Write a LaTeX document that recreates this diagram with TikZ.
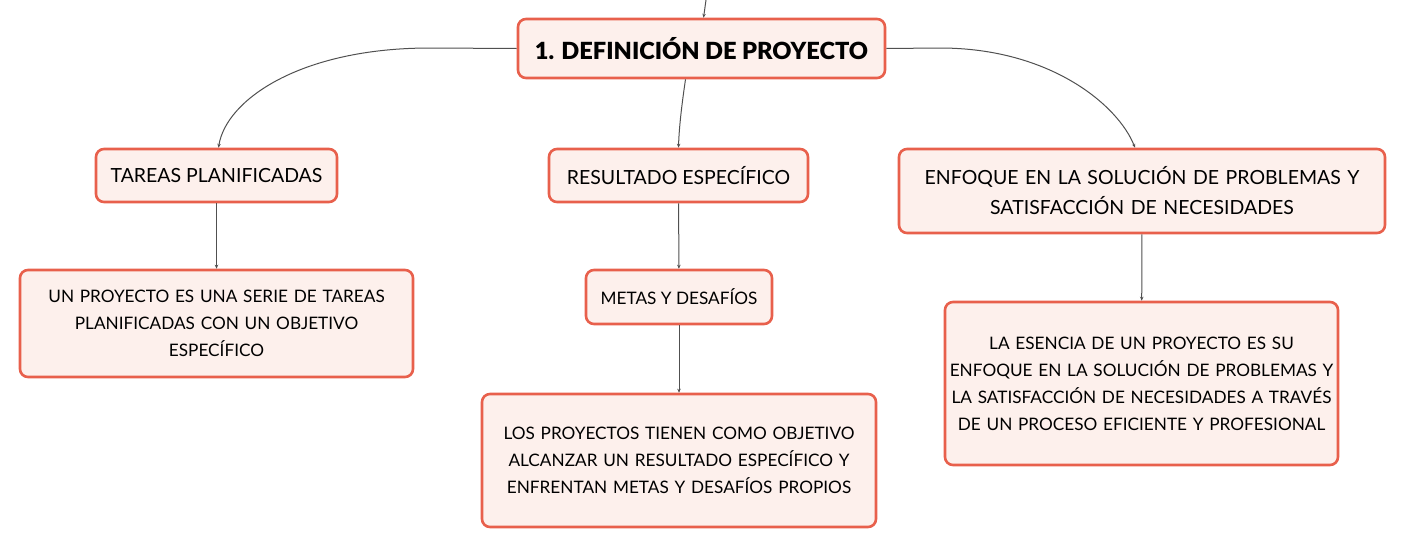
\documentclass[tikz,border=0pt]{standalone}
\usepackage{fontspec}
\setmainfont{Lato}
\newfontfamily\heavyfont{Lato Black}
\usepackage{tikz}
\usetikzlibrary{arrows.meta,positioning}
\definecolor{boxline}{HTML}{E8604C}
\definecolor{boxfill}{HTML}{FDF0EC}
\definecolor{linkgray}{HTML}{505050}
\tikzset{
  idea/.style={draw=boxline, fill=boxfill, line width=2.6pt, rounded corners=8pt,
    align=center, inner sep=0pt, font=\fontsize{17.2}{27}\selectfont},
  branch/.style={idea, font=\fontsize{19.5}{30}\selectfont},
  link/.style={draw=linkgray, line width=1pt, -{Stealth[length=4pt,width=3.5pt]}}
}
\begin{document}
\begin{tikzpicture}[x=1pt, y=-1pt]
      \useasboundingbox (0,0) rectangle (1405,549);
      \node [idea, minimum width=367pt, minimum height=59pt,
             font=\fontsize{23.6}{28}\heavyfont] (def) at (701.5,48.5) {1. DEFINICIÓN DE PROYECTO};
      \node [branch, minimum width=241pt, minimum height=53pt] (tareas) at (216.5,175.5) {TAREAS PLANIFICADAS};
      \node [branch, minimum width=259pt, minimum height=53pt] (result) at (678.5,175.5) {RESULTADO ESPECÍFICO};
      \node [branch, minimum width=486pt, minimum height=84pt, text width=470pt] (enfoque) at (1142,191) {ENFOQUE EN LA SOLUCIÓN DE PROBLEMAS Y\\SATISFACCIÓN DE NECESIDADES};
      \node [idea, minimum width=393pt, minimum height=107pt, text width=385pt] (serie) at (216.5,323.5) {UN PROYECTO ES UNA SERIE DE TAREAS\\PLANIFICADAS CON UN OBJETIVO\\ESPECÍFICO};
      \node [idea, minimum width=186pt, minimum height=54pt] (metas) at (679,297) {METAS Y DESAFÍOS};
      \node [idea, minimum width=394pt, minimum height=133pt, text width=385pt] (objetivo) at (679,460.5) {LOS PROYECTOS TIENEN COMO OBJETIVO\\ALCANZAR UN RESULTADO ESPECÍFICO Y\\ENFRENTAN METAS Y DESAFÍOS PROPIOS};
      \node [idea, minimum width=393pt, minimum height=163pt, text width=388pt] (esencia) at (1141.5,383.5) {LA ESENCIA DE UN PROYECTO ES SU\\ENFOQUE EN LA SOLUCIÓN DE PROBLEMAS Y\\LA SATISFACCIÓN DE NECESIDADES A TRAVÉS\\DE UN PROCESO EFICIENTE Y PROFESIONAL};
      \coordinate (top) at (706,0);
      % ramas desde la idea central
      \draw [link] (top) .. controls (705,8) .. ([xshift=2pt]def.north);
      \draw [link] (def.west) -- (430,48) .. controls (300,48) and (226,100) .. ([xshift=2pt]tareas.north);
      \draw [link] ([xshift=-16pt]def.south) .. controls (681,110) and (679,130) .. (result.north);
      \draw [link] (def.east) -- (940,48) .. controls (1050,48) and (1118,105) .. ([xshift=-7pt]enfoque.north);
      \draw [link] (tareas) -- (serie);
      \draw [link] (result) -- (metas);
      \draw [link] (metas) -- (objetivo);
      \draw [link] (enfoque) -- (esencia);
\end{tikzpicture}
\end{document}
